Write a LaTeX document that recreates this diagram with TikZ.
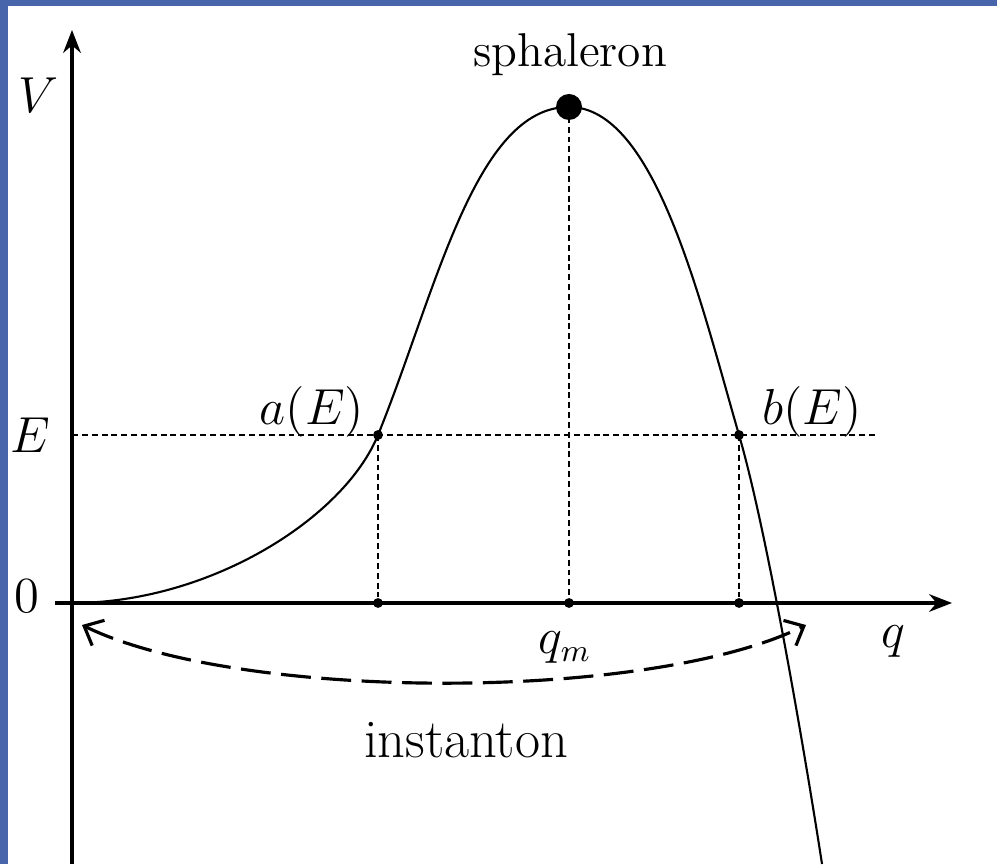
\documentclass[tikz,border=0pt]{standalone}
\usetikzlibrary{arrows.meta}
\definecolor{frameblue}{RGB}{72,101,172}
\tikzset{
  lbl/.style={font=\fontsize{13.5}{16}\selectfont},
  guide/.style={line width=.45pt,dash pattern=on 1.7pt off 1.1pt},
  pt/.style={circle,fill,inner sep=0pt,minimum size=2.8pt},
}
\begin{document}
\begin{tikzpicture}
  \useasboundingbox (0,0) rectangle (9.97,8.64);
  \fill[frameblue] (0,0) rectangle (.08,8.64);
  \fill[frameblue] (0,8.58) rectangle (9.97,8.64);
  % axes
  \coordinate (O) at (.72,2.61);
  \coordinate (yb) at (.72,0);
  \coordinate (yt) at (.72,8.34);
  \coordinate (xl) at (.55,2.61);
  \coordinate (xr) at (9.52,2.61);
  \draw[line width=1pt,-{Stealth[length=6.5pt,width=5pt]}] (yb)--(yt);
  \draw[line width=1pt,-{Stealth[length=6.5pt,width=5pt]}] (xl)--(xr);
  % points
  \coordinate (a) at (3.78,4.29);
  \coordinate (b) at (7.39,4.29);
  \coordinate (s) at (5.69,7.57);
  \coordinate (end) at (8.22,0);
  \coordinate (eE) at (8.75,4.29);
  % potential
  \draw[line width=.6pt] (O) .. controls (2.1,2.61) and (3.44,3.46) .. (a)
    .. controls (4.36,5.72) and (4.75,7.57) .. (s)
    .. controls (6.55,7.57) and (7.0,5.64) .. (b)
    .. controls (7.67,3.33) and (8.05,1.1) .. (end);
  \node[pt] (a0) at (3.78,2.61) {};
  \node[pt] (m0) at (5.69,2.61) {};
  \node[pt] (b0) at (7.39,2.61) {};
  \draw[guide] (.72,4.29)--(eE);
  \draw[guide] (a)--(a0);
  \draw[guide] (s)--(m0);
  \draw[guide] (b)--(b0);
  \node[pt] at (a) {};
  \node[pt] at (b) {};
  \node[circle,fill,inner sep=0pt,minimum size=7.4pt] (sph) at (s) {};
  % labels
  \node[lbl] (lV) at (.38,7.69) {$V$};
  \node[lbl] (lE) at (.30,4.29) {$E$};
  \node[lbl] (l0) at (.27,2.68) {$0$};
  \node[lbl] (lq) at (8.93,2.22) {$q$};
  \node[lbl] (lqm) at (5.65,2.16) {$q_m$};
  \node[lbl] (laE) at (3.12,4.52) {$a(E)$};
  \node[lbl] (lbE) at (8.12,4.52) {$b(E)$};
  \node[lbl] (lsph) at (5.70,8.09) {sphaleron};
  \node[font=\fontsize{15.5}{18}\selectfont] (linst) at (4.66,1.24) {instanton};
  % instanton path
  \coordinate (i1) at (.82,2.39);
  \coordinate (i2) at (8.06,2.39);
  \draw[line width=.9pt,dash pattern=on 8.5pt off 3pt,{Straight Barb[length=4.5pt,width=8pt]}-{Straight Barb[length=4.5pt,width=8pt]}] (i1) .. controls (2.4,1.62) and (6.5,1.62) .. (i2);
\end{tikzpicture}
\end{document}
